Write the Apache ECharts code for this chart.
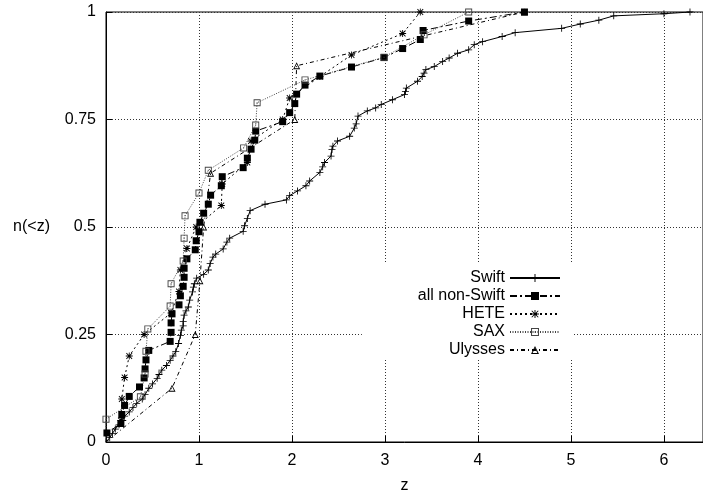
<!DOCTYPE html>
<html>
<head>
<meta charset="utf-8">
<script src="https://cdn.jsdelivr.net/npm/echarts@6/dist/echarts.min.js"></script>
<style>
  html, body { margin: 0; background: #fff; }
  #chart { width: 703px; height: 499px; }
</style>
</head>
<body>
<div id="chart"></div>
<script>
// cumulative distributions n(<z)
const swiftZ = [0, 0.04, 0.07, 0.10, 0.14, 0.18, 0.20, 0.25, 0.29, 0.33, 0.39, 0.42, 0.46, 0.50, 0.55, 0.57, 0.60, 0.65, 0.69, 0.72,
  0.75, 0.78, 0.80, 0.81, 0.83, 0.83, 0.84, 0.86, 0.885, 0.90, 0.93, 0.94, 0.95, 0.975, 1.05, 1.10, 1.12, 1.15, 1.18, 1.26,
  1.30, 1.33, 1.475, 1.49, 1.52, 1.55, 1.71, 1.94, 1.975, 2.06, 2.15, 2.19, 2.30, 2.33, 2.35, 2.42, 2.43, 2.44, 2.49, 2.62,
  2.67, 2.69, 2.71, 2.81, 2.90, 2.96, 3.08, 3.21, 3.22, 3.23, 3.35, 3.40, 3.42, 3.44, 3.53, 3.62, 3.69, 3.78, 3.90, 3.96,
  4.05, 4.26, 4.40, 4.90, 5.10, 5.30, 5.46, 6.00, 6.28];
const swiftN = [0, 0.01, 0.02, 0.03, 0.04, 0.05, 0.06, 0.07, 0.08, 0.09, 0.10, 0.11, 0.125, 0.135, 0.148, 0.157, 0.167, 0.178, 0.19, 0.20,
  0.21, 0.229, 0.248, 0.26, 0.27, 0.28, 0.295, 0.305, 0.314, 0.33, 0.349, 0.36, 0.368, 0.381, 0.39, 0.40, 0.415, 0.43, 0.437, 0.449,
  0.465, 0.474, 0.49, 0.503, 0.52, 0.538, 0.553, 0.563, 0.573, 0.584, 0.596, 0.607, 0.627, 0.64, 0.65, 0.665, 0.68, 0.688, 0.70, 0.711,
  0.73, 0.74, 0.758, 0.77, 0.777, 0.785, 0.796, 0.808, 0.815, 0.823, 0.839, 0.85, 0.858, 0.866, 0.873, 0.885, 0.893, 0.904, 0.912, 0.924,
  0.931, 0.943, 0.952, 0.962, 0.972, 0.981, 0.991, 0.996, 1.0];

const nonSwiftZ = [0, 0.01, 0.16, 0.17, 0.20, 0.25, 0.36, 0.41, 0.42, 0.43, 0.46, 0.69, 0.70, 0.70, 0.71, 0.785, 0.80, 0.83, 0.84, 0.84,
  0.87, 0.96, 0.97, 1.00, 1.01, 1.05, 1.10, 1.125, 1.24, 1.25, 1.475, 1.52, 1.56, 1.60, 1.61, 1.90, 1.975, 2.03, 2.05, 2.14,
  2.30, 2.64, 2.99, 3.19, 3.38, 3.41, 3.90, 4.50];
const nonSwiftN = [0, 0.021, 0.043, 0.064, 0.085, 0.106, 0.128, 0.149, 0.170, 0.191, 0.213, 0.234, 0.255, 0.277, 0.298, 0.319, 0.340, 0.362, 0.383, 0.404,
  0.426, 0.447, 0.468, 0.489, 0.511, 0.532, 0.553, 0.574, 0.596, 0.617, 0.638, 0.660, 0.681, 0.702, 0.723, 0.745, 0.766, 0.787, 0.809, 0.830,
  0.851, 0.872, 0.894, 0.915, 0.936, 0.957, 0.979, 1.0];

const heteZ = [0, 0.16, 0.17, 0.20, 0.25, 0.41, 0.70, 0.785, 0.80, 0.87, 0.97, 1.24, 1.25, 1.52, 1.56, 1.90, 1.975, 2.30, 2.64, 3.19, 3.38];
const heteN = [0, 0.05, 0.10, 0.15, 0.20, 0.25, 0.30, 0.35, 0.40, 0.45, 0.50, 0.55, 0.60, 0.65, 0.70, 0.75, 0.80, 0.85, 0.90, 0.95, 1.0];

const saxZ = [0, 0.0, 0.37, 0.42, 0.43, 0.45, 0.69, 0.70, 0.83, 0.84, 0.85, 1.00, 1.10, 1.48, 1.61, 1.625, 2.14, 2.99, 3.42, 3.90];
const saxN = [0, 0.053, 0.105, 0.158, 0.211, 0.263, 0.316, 0.368, 0.421, 0.474, 0.526, 0.579, 0.632, 0.684, 0.737, 0.789, 0.842, 0.895, 0.947, 1.0];

const ulyssesZ = [0, 0.71, 0.96, 1.01, 1.05, 1.125, 2.03, 2.05, 4.50];
const ulyssesN = [0, 0.125, 0.25, 0.375, 0.5, 0.625, 0.75, 0.875, 1.0];

const xTicks = [0, 1, 2, 3, 4, 5, 6];
const yTicks = [0, 0.25, 0.5, 0.75, 1];

const FONT = 'Liberation Sans';
const PLUS = 'path://M0,4.4H10V5.6H0Z M4.4,0H5.6V10H4.4Z';
const STAR = 'path://M0,4.4H10V5.6H0Z M4.4,0H5.6V10H4.4Z M1.3,0.5L9.5,8.7L8.7,9.5L0.5,1.3Z M8.7,0.5L9.5,1.3L1.3,9.5L0.5,8.7Z';
const BOX = 'path://M0,0H10V10H0Z M1.3,1.3V8.7H8.7V1.3Z M4.3,4.3H5.7V5.7H4.3Z';
const TRI = 'path://M5,0L10,9H0Z M5,2.4L2,7.8H8Z';

function pairs(zs, ns) {
  // first point (origin) drawn without a marker
  return zs.map((z, i) => i === 0 ? { value: [z, ns[i]], symbol: 'none' } : [z, ns[i]]);
}

function makeSeries(name, zs, ns, symbol, size, dash, color) {
  return {
    name: name,
    type: 'line',
    data: pairs(zs, ns),
    symbol: symbol,
    symbolSize: size,
    showAllSymbol: true,
    lineStyle: { color: color, width: 1, type: dash },
    itemStyle: { color: color, borderWidth: 0 },
    emphasis: { disabled: true }
  };
}

const chart = echarts.init(document.getElementById('chart'));
chart.setOption({
  animation: false,
  grid: { left: 106, right: -2, top: 12, bottom: 55, show: true, borderColor: '#000', borderWidth: 1 },
  legend: {
    orient: 'vertical',
    align: 'right',
    right: 131,
    top: 262,
    itemWidth: 50,
    itemHeight: 10,
    itemGap: 2,
    padding: [8, 11, 2, 56],
    backgroundColor: '#fff',
    textStyle: { fontFamily: FONT, fontSize: 16, color: '#000' },
    data: ['Swift', 'all non-Swift', 'HETE', 'SAX', 'Ulysses']
  },
  xAxis: {
    type: 'value',
    min: 0,
    max: 6.42,
    interval: 1,
    name: 'z',
    nameLocation: 'middle',
    nameGap: 36,
    nameTextStyle: { fontFamily: FONT, fontSize: 16, color: '#000' },
    axisLine: { lineStyle: { color: '#000', width: 1 } },
    axisTick: { inside: true, length: 6, lineStyle: { color: '#000' } },
    axisLabel: {
      fontFamily: FONT, fontSize: 16, color: '#000', margin: 11, showMaxLabel: false,
      formatter: v => xTicks.indexOf(v) >= 0 ? String(v) : ''
    },
    splitLine: { show: true, lineStyle: { color: '#333', width: 1, type: [1, 2] } }
  },
  yAxis: {
    type: 'value',
    min: 0,
    max: 1,
    interval: 0.25,
    name: 'n(<z)',
    nameLocation: 'middle',
    nameRotate: 0,
    nameGap: 56,
    nameTextStyle: { fontFamily: FONT, fontSize: 16, color: '#000' },
    axisLine: { lineStyle: { color: '#000', width: 1 } },
    axisTick: { inside: true, length: 6, lineStyle: { color: '#000' } },
    axisLabel: {
      fontFamily: FONT, fontSize: 16, color: '#000', margin: 10,
      formatter: v => yTicks.indexOf(v) >= 0 ? String(v) : ''
    },
    splitLine: { show: true, lineStyle: { color: '#333', width: 1, type: [1, 2] } }
  },
  series: [
    makeSeries('Swift', swiftZ, swiftN, PLUS, 7, 'solid', '#000'),
    makeSeries('all non-Swift', nonSwiftZ, nonSwiftN, 'rect', 7, [7, 3, 2, 3], '#000'),
    makeSeries('HETE', heteZ, heteN, STAR, 7, [2, 3], '#000'),
    makeSeries('SAX', saxZ, saxN, BOX, 7, [1, 1.5], '#444'),
    makeSeries('Ulysses', ulyssesZ, ulyssesN, TRI, 7, [4, 3, 1, 3], '#000')
  ]
});
</script>
</body>
</html>
